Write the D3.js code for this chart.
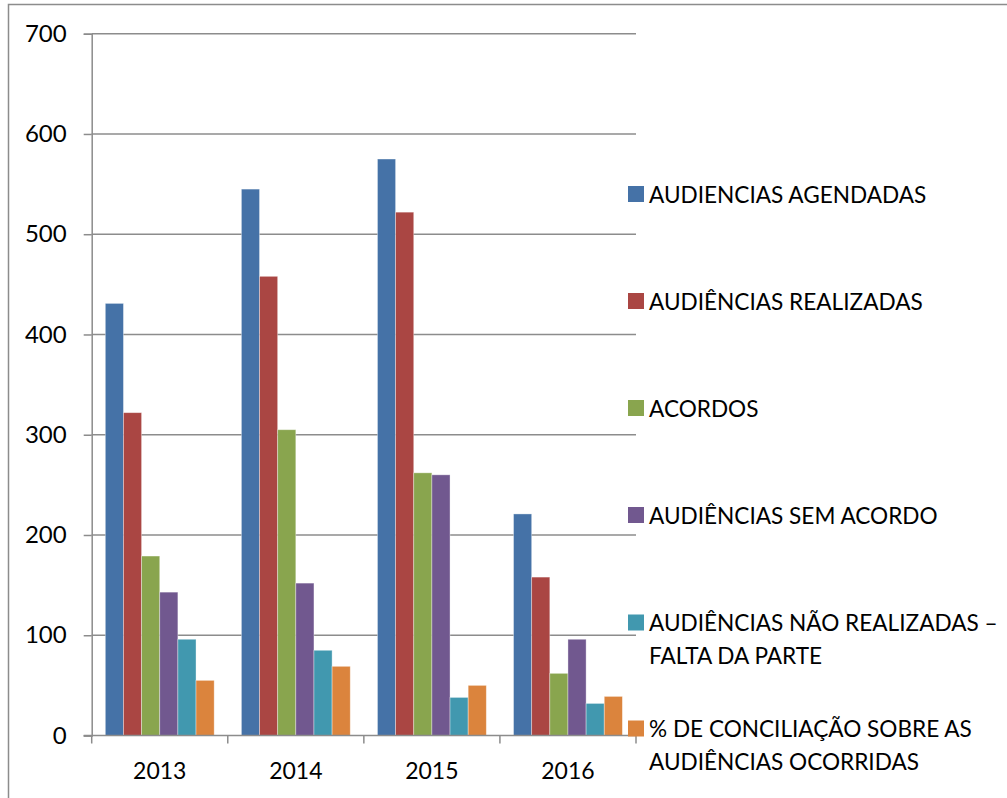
<!DOCTYPE html>
<html>
<head>
<meta charset="utf-8">
<script src="https://cdn.jsdelivr.net/npm/d3@7"></script>
<style>
  body { margin:0; background:#fff; }
  svg text { font-family: Lato, "Open Sans", sans-serif; fill:#000; }
</style>
</head>
<body>
<svg id="chart" width="1007" height="798"></svg>
<script>
(function () {
  "use strict";

  var years = ["2013", "2014", "2015", "2016"];
  var seriesNames = [
    ["AUDIENCIAS AGENDADAS"],
    ["AUDIÊNCIAS REALIZADAS"],
    ["ACORDOS"],
    ["AUDIÊNCIAS SEM ACORDO"],
    ["AUDIÊNCIAS NÃO REALIZADAS –", "FALTA DA PARTE"],
    ["% DE CONCILIAÇÃO SOBRE AS", "AUDIÊNCIAS OCORRIDAS"]
  ];
  var agendadas   = [431, 545, 575, 221];
  var realizadas  = [322, 458, 522, 158];
  var acordos     = [179, 305, 262, 62];
  var semAcordo   = [143, 152, 260, 96];
  var naoRealiz   = [96, 85, 38, 32];
  var conciliacao = [55, 69, 50, 39];
  var yTicks = [0, 100, 200, 300, 400, 500, 600, 700];
  var colors = ["#4572A7", "#AA4643", "#89A54E", "#71588F", "#4198AF", "#DB843D"];

  var allSeries = [agendadas, realizadas, acordos, semAcordo, naoRealiz, conciliacao];

  var svg = d3.select("#chart");

  // outer frame (only top & left visible in the picture)
  svg.append("path")
    .attr("d", "M8.5,800V4.5H1010")
    .attr("fill", "none")
    .attr("stroke", "#8c8c8c")
    .attr("stroke-width", 1.5);

  var left = 91.7, right = 636, top = 33.7, bottom = 735.5;

  var x = d3.scaleBand().domain(years).range([left, right]).paddingInner(0).paddingOuter(0);
  var y = d3.scaleLinear().domain([0, 700]).range([bottom, top]);
  // 6 bars per group, gap width 150% of one bar
  var inner = d3.scaleBand().domain(d3.range(allSeries.length))
    .range([0, x.bandwidth()]).paddingOuter(0.75).paddingInner(0);

  // gridlines
  svg.append("g").selectAll("line")
    .data(yTicks.slice(1))
    .enter().append("line")
    .attr("x1", left).attr("x2", right)
    .attr("y1", function(d){ return y(d); })
    .attr("y2", function(d){ return y(d); })
    .attr("stroke", "#8c8c8c")
    .attr("stroke-width", 1.5);

  // bars
  var groups = svg.append("g").selectAll("g")
    .data(years)
    .enter().append("g")
    .attr("transform", function(d){ return "translate(" + x(d) + ",0)"; });

  groups.selectAll("rect")
    .data(function(d, i){
      return allSeries.map(function(s, k){ return {k:k, v:s[i]}; });
    })
    .enter().append("rect")
    .attr("x", function(d){ return inner(d.k); })
    .attr("width", inner.bandwidth())
    .attr("y", function(d){ return y(d.v); })
    .attr("height", function(d){ return bottom - y(d.v); })
    .attr("fill", function(d){ return colors[d.k]; })
    .attr("stroke", "rgba(255,255,255,0.45)")
    .attr("stroke-width", 0.8);

  // y axis
  var yAxis = d3.axisLeft(y).tickValues(yTicks).tickSize(8).tickPadding(17);
  var gy = svg.append("g").attr("transform", "translate(" + left + ",0)").call(yAxis);
  gy.select(".domain").attr("stroke", "#8c8c8c").attr("stroke-width", 1.5);
  gy.selectAll(".tick line").attr("stroke", "#8c8c8c").attr("stroke-width", 1.5);
  gy.selectAll(".tick text").style("font-size", "24px").attr("fill", "#000");

  // x axis, ticks between categories
  var gx = svg.append("g").attr("transform", "translate(0," + bottom + ")");
  gx.append("line").attr("x1", left - 8).attr("x2", right)
    .attr("stroke", "#8c8c8c").attr("stroke-width", 1.5);
  gx.selectAll(".sep")
    .data(years.concat(["end"]))
    .enter().append("line")
    .attr("class", "sep")
    .attr("x1", function(d, i){ return left + i * x.bandwidth(); })
    .attr("x2", function(d, i){ return left + i * x.bandwidth(); })
    .attr("y1", 0).attr("y2", 8)
    .attr("stroke", "#8c8c8c").attr("stroke-width", 1.5);
  gx.selectAll("text")
    .data(years)
    .enter().append("text")
    .attr("x", function(d){ return x(d) + x.bandwidth() / 2; })
    .attr("y", 43)
    .attr("text-anchor", "middle")
    .style("font-size", "23px")
    .text(function(d){ return d; });

  // legend
  var legendTops = [186, 293, 400, 507, 614.5, 720.5];
  var legend = svg.append("g").selectAll("g")
    .data(seriesNames)
    .enter().append("g")
    .attr("transform", function(d, i){ return "translate(628," + legendTops[i] + ")"; });
  legend.append("rect")
    .attr("width", 16).attr("height", 16)
    .attr("fill", function(d, i){ return colors[i]; });
  legend.append("text")
    .attr("x", 21)
    .style("font-size", "22.6px")
    .selectAll("tspan")
    .data(function(d){ return d; })
    .enter().append("tspan")
    .attr("x", 21)
    .attr("y", function(d, j){ return 16.5 + j * 32.5; })
    .text(function(d){ return d; });

})();
</script>
</body>
</html>
